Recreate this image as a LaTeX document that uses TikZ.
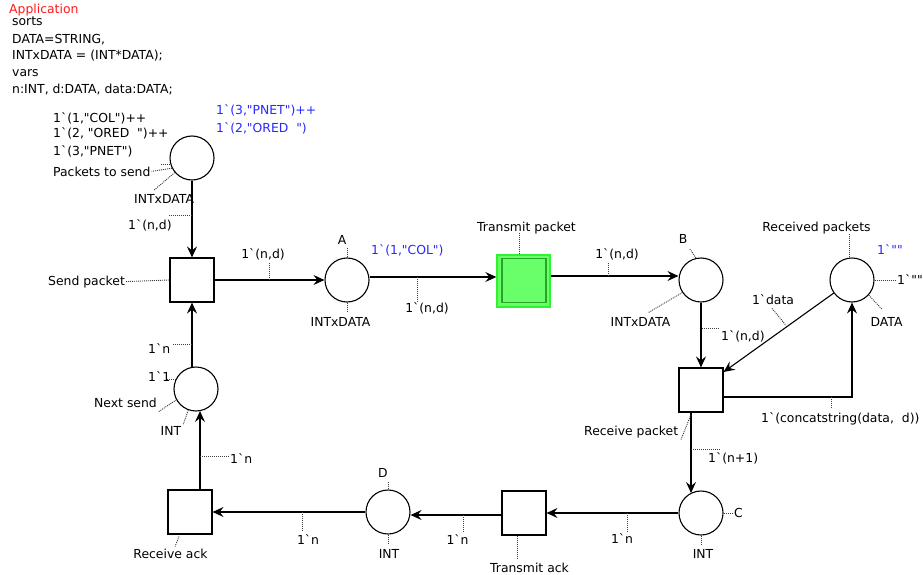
\documentclass[tikz,border=0pt]{standalone}
\usepackage{fontspec}
\newfontfamily\dv{DejaVu Sans}
\usetikzlibrary{arrows.meta,calc}
\definecolor{appred}{RGB}{255,25,25}
\definecolor{mblue}{RGB}{40,40,255}
\definecolor{gfill}{RGB}{104,255,104}
\definecolor{gedge}{RGB}{45,245,45}
\definecolor{gin}{RGB}{40,165,40}
\definecolor{leadc}{RGB}{60,60,60}
\begin{document}
\begin{tikzpicture}[x=1pt,y=-1pt,
  font=\dv\fontsize{12.4}{15}\selectfont,
  place/.style={circle,draw,line width=1.1pt,minimum size=44pt,inner sep=0pt},
  trans/.style={rectangle,draw,line width=1.1pt,minimum size=44pt,inner sep=0pt},
  lbl/.style={inner sep=1pt,anchor=base},
  lblw/.style={inner sep=1pt,anchor=base west},
  arc/.style={draw,line width=1.1pt,-{Stealth[length=11pt,width=10pt,inset=4pt]}},
  lead/.style={draw=leadc,line width=0.9pt,dash pattern=on 1pt off 1pt}]
\useasboundingbox (0,0) rectangle (923,575);

% declarations
\node[lblw,text=appred] (app) at (8,13.5) {Application};
\node[lblw] (d1) at (11,26) {sorts};
\node[lblw] (d2) at (11,43.5) {DATA=STRING,};
\node[lblw] (d3) at (11,60) {INTxDATA = (INT*DATA);};
\node[lblw] (d4) at (11,77) {vars};
\node[lblw] (d5) at (11,94) {n:INT, d:DATA, data:DATA;};

% places
\node[place] (pts) at (192,158) {};
\node[place] (pA) at (347,280) {};
\node[place] (pB) at (701,280) {};
\node[place] (pR) at (852,280) {};
\node[place] (pN) at (196,389) {};
\node[place] (pD) at (388,512) {};
\node[place] (pC) at (701,513) {};

% transitions
\node[trans] (tSP) at (192,280) {};
\node[trans] (tRP) at (701,390) {};
\node[trans] (tRA) at (190,512) {};
\node[trans] (tTA) at (524,513) {};
\node[rectangle,draw=gedge,fill=gfill,line width=1.4pt,minimum width=53pt,minimum height=52pt,inner sep=0pt] (tTP) at (523.5,281) {};
\node[rectangle,draw=gin,line width=1.1pt,minimum size=44pt,inner sep=0pt] (tTPi) at (524,280.5) {};

% arcs
\draw[arc] (pts) -- (tSP);
\draw[arc] (tSP) -- (pA);
\draw[arc] ($(pA.east)+(0,-3)$) -- ($(tTP.west)+(0,-4)$);
\draw[arc] ($(tTP.east)+(0,-5)$) -- ($(pB.west)+(0,-4)$);
\draw[arc] (pB) -- (tRP);
\draw[arc] (pR) -- ($(tRP.east)+(0,-18)$);
\draw[arc] ($(tRP.east)+(0,7)$) -| (pR);
\draw[arc] ($(tRP.south)+(-10,0)$) -- ($(pC.center)+(-10,-20)$);
\draw[arc] (pC) -- (tTA);
\draw[arc] ($(tTA.west)+(0,2)$) -- ($(pD.east)+(0,3)$);
\draw[arc] (pD) -- (tRA);
\draw[arc] ($(tRA.north)+(10,0)$) -- ($(pN.center)+(4,22)$);
\draw[arc] ($(pN.center)+(-4,-22)$) -- (tSP.south);

% Packets to send
\node[lblw] (m1) at (52,122) {1`(1,"COL")++};
\node[lblw] (m2) at (52,138) {1`(2, "ORED\ \ ")++};
\node[lblw] (m3) at (52,155) {1`(3,"PNET")};
\draw[lead] (pts.197) -- ++(-10,0);
\node[lblw,text=mblue] (c1) at (215,115) {1`(3,"PNET")++};
\node[lblw,text=mblue] (c2) at (215,132) {1`(2,"ORED\ \ ")};
\node[lblw] (lPts) at (52,176) {Packets to send};
\draw[lead] (pts.207) -- (lPts.east);
\node[lblw] (lPtsT) at (133,203) {INTxDATA};
\draw[lead] (pts.220) -- ++(-21,18);
\node[lblw] (a1) at (127,229) {1`(n,d)};
\draw[lead] ($(tSP.north)+(0,-42)$) -- ++(-24,0);

% Send packet
\node[lblw] (lSP) at (47,285) {Send packet};
\draw[lead] (lSP.east) -- (tSP.west);
\node[lbl] (a2) at (263,258) {1`(n,d)};
\draw[lead] ($(tSP.east)+(55,0)$) -- ++(0,-18);

% A
\node[lbl] (lA) at (342,244.5) {A};
\draw[lead] (pA.north) -- ++(0,-9);
\node[lbl] (lAT) at (340.5,326) {INTxDATA};
\draw[lead] (pA.south) -- ++(0,9);
\node[lblw,text=mblue] (cA) at (370,254) {1`(1,"COL")};
\node[lbl] (a3) at (427,312) {1`(n,d)};
\draw[lead] ($(pA.east)+(48,-3)$) -- ++(0,25);

% Transmit packet
\node[lbl] (lTP) at (526.5,231) {Transmit packet};
\draw[lead] ($(tTP.north)+(-4.5,0)$) -- ++(0,-22);
\node[lbl] (a4) at (617,258) {1`(n,d)};
\draw[lead] ($(tTP.east)+(58,-5)$) -- ++(0,-13);

% B
\node[lbl] (lB) at (683,243) {B};
\draw[lead] (pB.103) -- ++(-6,-9);
\node[lbl] (lBT) at (640.5,326) {INTxDATA};
\draw[lead] (pB.214) -- ++(-34,20);
\node[lblw] (a5) at (720,340) {1`(n,d)};
\draw[lead] ($(pB.south)+(1,26)$) -- ++(18,0);

% Received packets
\node[lbl] (lR) at (816.5,231) {Received packets};
\draw[lead] ($(pR.north)+(-3,0)$) -- ++(0,-23);
\node[lblw,text=mblue] (cR) at (876,254) {1`""};
\node[lblw] (mR) at (896,284) {1`""};
\draw[lead] (pR.east) -- ++(21,0);
\node[lbl] (lRT) at (886.5,326) {DATA};
\draw[lead] (pR.318) -- ++(13,14);
\node[lbl] (a6) at (773,304) {1`data};
\draw[lead] ($(a6.south)+(-1,3)$) -- ++(14,17);

% Receive packet
\node[lblw] (a7) at (760,422) {1`(concatstring(data,\ \ d))};
\draw[lead] ($(tRP.east)+(108,7)$) -- ++(0,11);
\node[lblw] (lRP) at (583,435) {Receive packet};
\draw[lead] ($(tRP.south)+(-10,2)$) -- ++(-10,25);
\node[lblw] (a8) at (707,462) {1`(n+1)};
\draw[lead] ($(tRP.south)+(-10,37)$) -- ++(29,0);

% C
\node[lblw] (lC) at (733,517) {C};
\draw[lead] (pC.east) -- ++(10,0);
\node[lbl] (lCT) at (703,558) {INT};
\draw[lead] (pC.south) -- ++(0,10);
\node[lbl] (a9) at (622,543) {1`n};
\draw[lead] ($(tTA.east)+(81,0)$) -- ++(0,19);

% Transmit ack
\node[lbl] (lTA) at (529.5,572) {Transmit ack};
\draw[lead] ($(tTA.south)+(-7,0)$) -- ++(0,24);
\node[lbl] (a10) at (457.5,544) {1`n};
\draw[lead] ($(tTA.west)+(-38,2)$) -- ++(0,17);

% D
\node[lbl] (lD) at (383,477) {D};
\draw[lead] (pD.north) -- ++(0,-8);
\node[lbl] (lDT) at (389,558) {INT};
\draw[lead] (pD.south) -- ++(0,10);
\node[lbl] (a11) at (308,544) {1`n};
\draw[lead] ($(tRA.east)+(90,0)$) -- ++(0,20);

% Receive ack
\node[lbl] (lRA) at (170.5,558) {Receive ack};
\draw[lead] ($(tRA.south)+(-11,2)$) -- ++(-4,10);
\node[lblw] (a12) at (229,463) {1`n};
\draw[lead] ($(tRA.north)+(10,-33)$) -- ++(29,0);

% Next send
\node[lblw] (a13) at (147,353) {1`n};
\draw[lead] ($(tSP.south)+(0,41.5)$) -- ++(-20,0);
\node[lblw] (mN) at (147,381) {1`1};
\draw[lead] (pN.155) -- ++(-9,0);
\node[lblw] (lN) at (93,407) {Next send};
\draw[lead] (pN.209) -- ++(-18,12);
\node[lbl] (lNT) at (171,435) {INT};
\draw[lead] (pN.250) -- ++(-5,14);
\end{tikzpicture}
\end{document}
